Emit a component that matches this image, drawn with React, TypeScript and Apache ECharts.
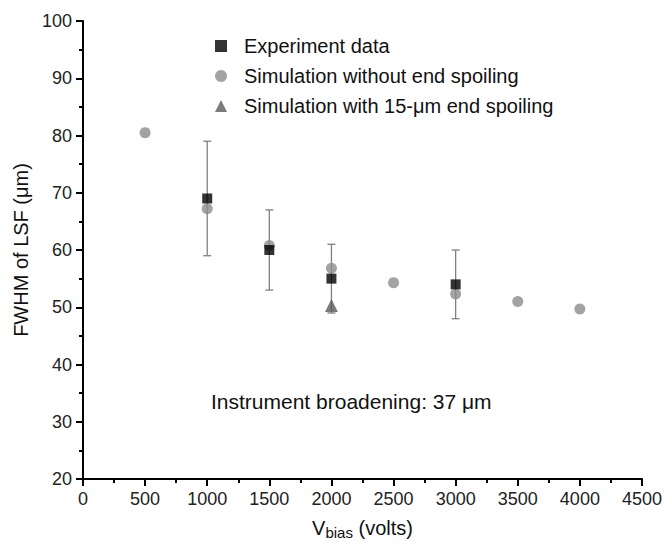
import React, { useEffect, useRef } from "react";
import * as echarts from "echarts";

const xTicks = [0, 500, 1000, 1500, 2000, 2500, 3000, 3500, 4000, 4500];
const yTicks = [20, 30, 40, 50, 60, 70, 80, 90, 100];

const expX = [1000, 1500, 2000, 3000];
const expY = [69, 60, 55, 54];
const expErrLow = [59, 53, 49, 48];
const expErrHigh = [79, 67, 61, 60];

const simX = [500, 1000, 1500, 2000, 2500, 3000, 3500, 4000];
const simY = [80.5, 67.2, 60.8, 56.8, 54.3, 52.3, 51.0, 49.7];

const spoilX = [2000];
const spoilY = [50.3];

const seriesNames = [
  "Experiment data",
  "Simulation without end spoiling",
  "Simulation with 15-\u03bcm end spoiling",
];

const FONT = "'Liberation Sans', Arial, Helvetica, sans-serif";

export default function App() {
  const ref = useRef<HTMLDivElement>(null);

  useEffect(() => {
    if (!ref.current) return;
    const chart = echarts.init(ref.current, undefined, { renderer: "svg" });

    const errData = expX.map((x, i) => [x, expErrLow[i], expErrHigh[i]]);

    const mkAxisLine = () => ({ show: true, lineStyle: { color: "black", width: 2 } });
    const mkAxisTick = () => ({ show: true, length: 7, lineStyle: { color: "black", width: 2 } });
    const mkMinorTick = () => ({ show: true, splitNumber: 2, length: 4, lineStyle: { color: "black", width: 2 } });
    const mkLabel = () => ({
      fontSize: 18,
      color: "#222222",
      margin: 11,
      fontFamily: FONT,
      formatter: (v: number) => String(v),
    });

    chart.setOption({
      animation: false,
      grid: { left: 83, right: 19, top: 21, bottom: 69 },
      legend: {
        data: seriesNames,
        orient: "vertical",
        left: 210,
        top: 31,
        itemWidth: 12,
        itemHeight: 12,
        itemGap: 10,
        textStyle: { fontSize: 20, color: "#111111", fontFamily: FONT, padding: [0, 0, 0, 12] },
      },
      xAxis: {
        type: "value",
        min: xTicks[0],
        max: xTicks[xTicks.length - 1],
        interval: 500,
        name: "{v|V}{s|bias}{v| (volts)}",
        nameLocation: "middle",
        nameGap: 36,
        nameTextStyle: {
          color: "#111111",
          rich: {
            v: { fontSize: 20, color: "#111111", fontFamily: FONT },
            s: { fontSize: 15, color: "#111111", fontFamily: FONT, padding: [10, 0, 0, 0] },
          },
        },
        axisLine: mkAxisLine(),
        axisTick: mkAxisTick(),
        minorTick: mkMinorTick(),
        splitLine: { show: false },
        axisLabel: mkLabel(),
      },
      yAxis: {
        type: "value",
        min: yTicks[0],
        max: yTicks[yTicks.length - 1],
        interval: 10,
        name: "FWHM of LSF (\u03bcm)",
        nameLocation: "middle",
        nameGap: 51,
        nameRotate: 90,
        nameTextStyle: { fontSize: 20, color: "#111111", fontFamily: FONT },
        axisLine: mkAxisLine(),
        axisTick: mkAxisTick(),
        minorTick: mkMinorTick(),
        splitLine: { show: false },
        axisLabel: mkLabel(),
      },
      graphic: [
        {
          type: "text",
          left: 211,
          top: 391,
          style: {
            text: "Instrument broadening: 37 \u03bcm",
            fontSize: 21,
            fill: "#111111",
            fontFamily: FONT,
          },
        },
      ],
      series: [
        {
          type: "custom",
          name: "errors",
          z: 1,
          data: errData,
          renderItem: (params: any, api: any) => {
            const x = api.value(0);
            const lo = api.value(1);
            const hi = api.value(2);
            const pHi = api.coord([x, hi]);
            const pLo = api.coord([x, lo]);
            const cap = 4;
            const style = { stroke: "#808080", lineWidth: 1.3 };
            return {
              type: "group",
              children: [
                { type: "line", shape: { x1: pHi[0], y1: pHi[1], x2: pLo[0], y2: pLo[1] }, style },
                { type: "line", shape: { x1: pHi[0] - cap, y1: pHi[1], x2: pHi[0] + cap, y2: pHi[1] }, style },
                { type: "line", shape: { x1: pLo[0] - cap, y1: pLo[1], x2: pLo[0] + cap, y2: pLo[1] }, style },
              ],
            };
          },
        },
        {
          type: "scatter",
          name: seriesNames[1],
          z: 2,
          symbol: "circle",
          symbolSize: 11,
          itemStyle: { color: "#8c8c8c" },
          data: simX.map((x, i) => [x, simY[i]]),
        },
        {
          type: "scatter",
          name: seriesNames[0],
          z: 3,
          symbol: "rect",
          symbolSize: 10,
          itemStyle: { color: "#000000" },
          data: expX.map((x, i) => [x, expY[i]]),
        },
        {
          type: "scatter",
          name: seriesNames[2],
          z: 3,
          symbol: "triangle",
          symbolSize: 13,
          itemStyle: { color: "#5a5a5a" },
          data: spoilX.map((x, i) => [x, spoilY[i]]),
        },
      ],
    });

    return () => chart.dispose();
  }, []);

  return (
    <div
      ref={ref}
      style={{ position: "fixed", left: 0, top: 0, width: 665, height: 548, background: "#fff" }}
    />
  );
}
